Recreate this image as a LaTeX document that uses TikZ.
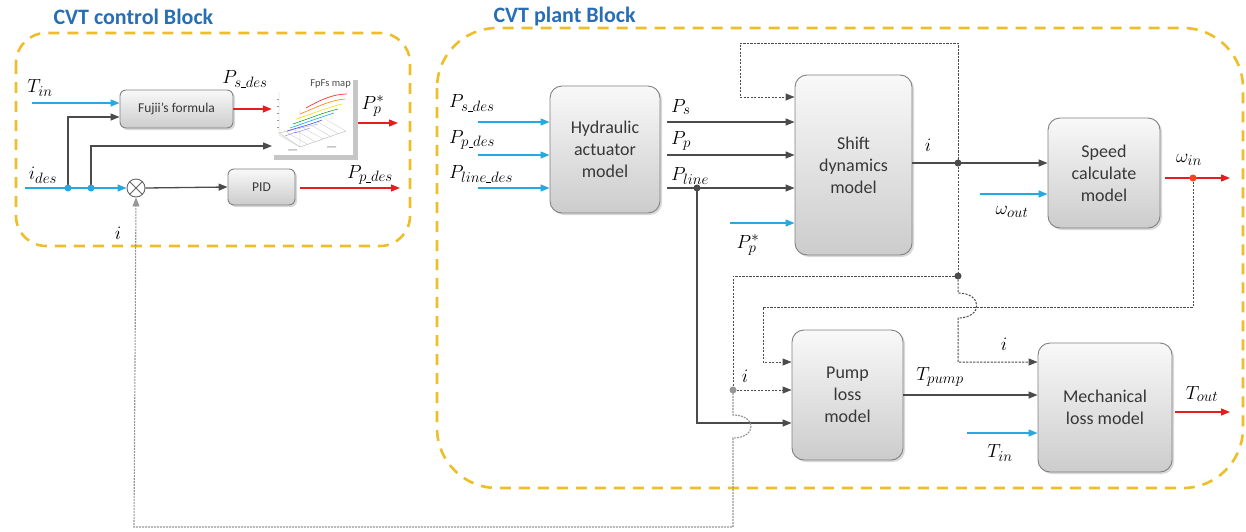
\RequirePackage{fix-cm}
\documentclass[tikz,border=0pt]{standalone}
\usepackage{fontspec}
\setsansfont{Carlito}
\usetikzlibrary{arrows.meta,shadows,calc}

% signal labels: large symbols with generous subscripts
\DeclareMathSizes{19}{19}{15}{12}

\definecolor{frameyel}{RGB}{238,190,40}
\definecolor{titleblue}{RGB}{40,110,180}
\definecolor{sigblue}{RGB}{40,168,224}
\definecolor{sigred}{RGB}{228,30,30}
\definecolor{wire}{RGB}{75,75,75}
\definecolor{fbgrey}{RGB}{150,150,150}
\definecolor{dotred}{RGB}{240,70,30}

% short underscore used inside subscripts
\newcommand{\usc}{\rule[-0.8pt]{4.6pt}{0.6pt}}

\tikzset{
  frame/.style={draw=frameyel, line width=2.6pt, dash pattern=on 11pt off 8pt},
  blocktitle/.style={text=titleblue, font=\sffamily\bfseries\fontsize{22}{26}\selectfont},
  block/.style={draw=black!50, line width=0.9pt, rounded corners=12pt,
    top color=gray!5, bottom color=gray!40,
    drop shadow={opacity=0.3, shadow xshift=2pt, shadow yshift=-2pt},
    align=center, text=black!78, inner sep=0pt,
    font=\sffamily\fontsize{18}{22}\selectfont},
  smallblock/.style={block, rounded corners=6pt, font=\sffamily\fontsize{13.5}{16}\selectfont},
  lbl/.style={inner sep=0pt, font=\fontsize{19}{22}\selectfont},
  wirearrow/.style={draw=wire, line width=1.3pt, -{Triangle[length=9pt,width=7pt]}},
  bluearrow/.style={draw=sigblue, line width=1.3pt, -{Triangle[length=9pt,width=7pt]}},
  redarrow/.style={draw=sigred, line width=1.3pt, -{Triangle[length=9pt,width=7pt]}},
  fbdash/.style={draw=black!70, line width=1pt, dash pattern=on 2.2pt off 1.3pt},
  fbdasharrow/.style={fbdash, -{Triangle[length=9pt,width=7pt]}},
  greydash/.style={draw=fbgrey, line width=1.1pt, dash pattern=on 2pt off 1pt},
  junction/.style={circle, fill=#1, inner sep=0pt, minimum size=7pt},
}

\begin{document}
\begin{tikzpicture}[x=1pt, y=-1pt]
\useasboundingbox (0,0) rectangle (1246,531);

% ---------------- frames and titles ----------------
\draw[frame, rounded corners=30pt] (16,33) rectangle (410,246);
\draw[frame, rounded corners=60pt] (437,28) rectangle (1243,488);
\node[blocktitle, anchor=west] (ctrltitle) at (50,17) {CVT control Block};
\node[blocktitle, anchor=west] (planttitle) at (490,17) {CVT plant Block};

% ---------------- control block ----------------
\node[smallblock, minimum width=113pt, minimum height=38pt] (fuji) at (176.5,109) {Fujii's formula};
\node[smallblock, minimum width=67pt, minimum height=36pt] (pid) at (261.5,187) {PID};
\node[draw=none, fill=white, minimum width=81pt, minimum height=77pt, inner sep=0pt,
      drop shadow={opacity=0.45, shadow xshift=3pt, shadow yshift=-3pt, shadow scale=1.04}]
      (map) at (312.5,116.5) {};
\node[circle, draw=black!60, line width=0.9pt, fill=white, minimum size=18pt, inner sep=0pt] (sum) at (136,188) {};
\draw[black!60, line width=0.9pt] (sum.north west) -- (sum.south east) (sum.north east) -- (sum.south west);

% small 3-D surface plot inside the map
\begin{scope}
  \node[font=\sffamily\fontsize{10.5}{12}\selectfont, text=black!70, anchor=north east, inner sep=1pt] (maptext) at (352,79) {FpFs map};
  \draw[black!30, line width=0.4pt] (279,92) -- (279,133) -- (300,147) -- (346,131);
  \draw[black!30, line width=0.4pt] (279,133) -- (318,124) (300,147) -- (300,110);
  \foreach \k in {0,...,6} {
    \draw[black!22, line width=0.3pt] ($(300,147)!\k/6!(346,131)$) -- ++(-21,-12);
  }
  \foreach \k in {1,...,5} {\draw[black!40, line width=0.3pt] (279,{92+\k*7}) -- ++(-2,0);}
  \draw[red!80, line width=0.7pt] (306,108) .. controls (320,100) and (333,94) .. (347,94);
  \draw[orange, line width=0.6pt] (300,114) .. controls (315,108) and (330,100) .. (345,99);
  \draw[yellow!80!orange, line width=0.6pt] (296,119) .. controls (312,114) and (326,108) .. (342,104);
  \draw[green!60!black, line width=0.5pt] (293,124) .. controls (308,119) and (322,113) .. (338,109);
  \draw[cyan, line width=0.6pt] (290,128) .. controls (305,123) and (318,118) .. (334,113);
  \draw[blue!70, line width=0.6pt] (287,131) .. controls (300,127) and (312,124) .. (322,120);
  \draw[blue!50, line width=0.4pt] (295,133) -- (310,128) (285,136) -- (296,132);
  \fill[black!22] (288,149) rectangle (297,150.5) (327,146) rectangle (336,147.5);
\end{scope}

% control-block signals
\coordinate (tin0) at (32,103);
\coordinate (ides0) at (25,188);
\coordinate (j1) at (68,188);
\coordinate (j2) at (91,188);
\coordinate (ppstar) at (398,123);
\coordinate (ppdes) at (400,188);

\draw[bluearrow] (tin0) -- (tin0 -| fuji.west);
\draw[draw=sigblue, line width=1.3pt] (ides0) -- (j2);
\draw[bluearrow] (j2) -- (sum.west);
\draw[wirearrow] (j1) |- ($(fuji.west)+(0,8)$);
\draw[wirearrow] (j2) |- (272,146);
\draw[redarrow] (fuji.east) -- (fuji.east -| map.west);
\draw[redarrow] (358,123) -- (ppstar);
\draw[wirearrow] (sum.east) -- (pid.west);
\draw[redarrow] ($(pid.east)+(5,1)$) -- (ppdes);
\node[junction=sigblue] (dj1) at (j1) {};
\node[junction=sigblue] (dj2) at (j2) {};

\node[lbl] (lTin) at (40,88) {$T_{in}$};
\node[lbl] (lides) at (43,175) {$i_{des}$};
\node[lbl] (lPsdes) at (245,79) {$P_{s\usc des}$};
\node[lbl] (lPpstar) at (373,106) {$P_p^{*}$};
\node[lbl] (lPpdes) at (370,175) {$P_{p\usc des}$};
\node[lbl] (lic) at (118,233) {$i$};

% ---------------- plant block ----------------
\node[block, minimum width=110pt, minimum height=127pt] (hyd) at (605,149.5) {Hydraulic\\actuator\\model};
\node[block, minimum width=117pt, minimum height=180pt] (shift) at (853.5,165) {Shift\\dynamics\\model};
\node[block, minimum width=112pt, minimum height=110pt] (speed) at (1104,173) {Speed\\calculate\\model};
\node[block, minimum width=111pt, minimum height=130pt] (pump) at (847.5,395) {Pump\\loss\\model};
\node[block, minimum width=134pt, minimum height=129pt] (mech) at (1105,407.5) {Mechanical\\loss model};

% hydraulic actuator inputs
\coordinate (in1) at (478,122);
\coordinate (in2) at (478,155);
\coordinate (in3) at (478,188);
\draw[bluearrow] (in1) -- (in1 -| hyd.west);
\draw[bluearrow] (in2) -- (in2 -| hyd.west);
\draw[bluearrow] (in3) -- (in3 -| hyd.west);
\node[lbl, anchor=west] (lPs1) at (449,103) {$P_{s\usc des}$};
\node[lbl, anchor=west] (lPp1) at (449,140) {$P_{p\usc des}$};
\node[lbl, anchor=west] (lPl1) at (449,174) {$P_{line\usc des}$};

% hydraulic actuator outputs
\draw[wirearrow] ($(hyd.east |- in1)+(7,0)$) -- (in1 -| shift.west);
\draw[wirearrow] ($(hyd.east |- in2)+(7,0)$) -- (in2 -| shift.west);
\draw[wirearrow] ($(hyd.east |- in3)+(7,0)$) -- (in3 -| shift.west);
\node[lbl, anchor=west] (lPs2) at (671,107) {$P_s$};
\node[lbl, anchor=west] (lPp2) at (671,141) {$P_p$};
\node[lbl, anchor=west] (lPl2) at (671,176) {$P_{line}$};

% P_line branch to the pump model
\coordinate (jl) at (697,188);
\draw[wirearrow] (jl) |- (pump.west |- 0,423);
\node[junction=wire] (djl) at (jl) {};

% P_p^* into the shift model
\coordinate (pps0) at (730,223);
\draw[bluearrow] (pps0) -- (pps0 -| shift.west);
\node[lbl] (lPps) at (748,245) {$P_p^{*}$};

% shift output i to speed model
\coordinate (ji) at (958,163);
\draw[wirearrow] (shift.east |- ji) -- (ji -| speed.west);
\node[lbl] (li1) at (928,145) {$i$};

% feedback of i to the shift model (top loop)
\draw[fbdasharrow] (ji) -- (958,43) -- (740,43) -- (740,97) -- (shift.west |- 0,97);

% feedback trunk down to junction (958,276)
\coordinate (ji2) at (958,276);
\draw[fbdash] (ji) -- (ji2);

% branch to mechanical model, hopping over the omega_in line
\draw[fbdasharrow] (ji2) -- (958,293) .. controls (983,293) and (983,318) .. (958,318)
   -- (958,362) -- (mech.west |- 0,362);
\node[lbl] (li3) at (1004,344) {$i$};

% branch to pump model and back to the controller
\coordinate (jg) at (733,390);
\draw[fbdash] (ji2) -- (733,276) -- (jg);
\draw[fbdasharrow] (jg) -- (pump.west |- jg);
\node[lbl] (li2) at (745,376) {$i$};
\draw[greydash, -{Triangle[length=9pt,width=7pt]}] (jg) -- (733,415)
   .. controls (757,415) and (757,438) .. (733,438)
   -- (733,527) -- (134,527) -- (sum.south);

\node[junction=wire] (dji) at (ji) {};
\node[junction=wire] (dji2) at (ji2) {};
\node[junction=fbgrey] (djg) at (jg) {};

% speed model: omega_out in, omega_in out
\coordinate (wo0) at (980,194);
\draw[bluearrow] (wo0) -- (wo0 -| speed.west);
\node[lbl] (lwo) at (1012,212) {$\omega_{out}$};
\coordinate (wi) at (1193,178);
\coordinate (wiend) at (1230,178);
\draw[redarrow] ($(speed.east |- wi)+(5,0)$) -- (wiend);
\node[lbl] (lwi) at (1189,160) {$\omega_{in}$};

% omega_in feedback to the pump model
\draw[fbdasharrow] (wi) -- (1193,307) -- (763,307) -- (763,362) -- (pump.west |- 0,362);
\node[junction=dotred] (dwi) at (wi) {};

% pump output to mechanical model
\draw[wirearrow] (pump.east |- 0,395) -- (mech.west |- 0,395);
\node[lbl] (lTp) at (940,377) {$T_{pump}$};

% T_in into mechanical model, T_out out
\coordinate (tin2) at (967,433);
\draw[bluearrow] (tin2) -- (tin2 -| mech.west);
\node[lbl] (lTin2) at (1000,453) {$T_{in}$};
\draw[redarrow] ($(mech.east |- 0,412)+(3,0)$) -- (1230,412);
\node[lbl] (lTout) at (1202,394) {$T_{out}$};

\end{tikzpicture}
\end{document}
